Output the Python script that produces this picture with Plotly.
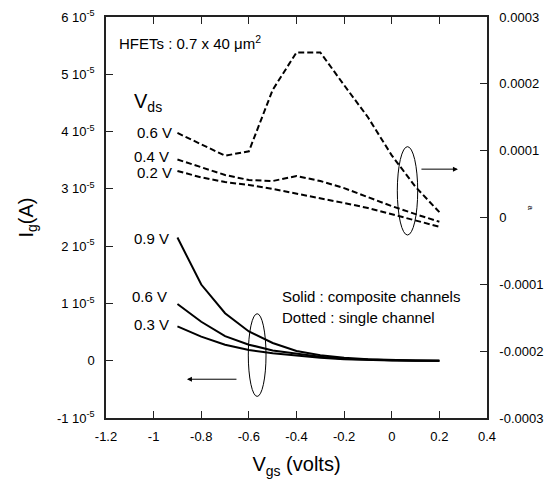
import plotly.graph_objects as go

# Gate voltage sweep (V)
vgs = [-0.9, -0.8, -0.7, -0.6, -0.5, -0.4, -0.3, -0.2, -0.1, 0.0, 0.1, 0.2]

# Single channel HFET gate current (right axis, A), dotted curves
single_06 = [1.265e-4, 1.09e-4, 0.925e-4, 0.99e-4, 1.91e-4, 2.47e-4, 2.47e-4, 1.98e-4, 1.50e-4, 0.93e-4, 0.457e-4, 0.08e-4]
single_04 = [0.868e-4, 0.756e-4, 0.636e-4, 0.561e-4, 0.546e-4, 0.621e-4, 0.546e-4, 0.44e-4, 0.307e-4, 0.17e-4, 0.05e-4, -0.063e-4]
single_02 = [0.696e-4, 0.60e-4, 0.53e-4, 0.487e-4, 0.427e-4, 0.36e-4, 0.29e-4, 0.217e-4, 0.142e-4, 0.052e-4, -0.037e-4, -0.138e-4]

# Composite channel HFET gate current (left axis, A), solid curves
comp_09 = [2.15e-5, 1.33e-5, 0.83e-5, 0.51e-5, 0.31e-5, 0.17e-5, 0.096e-5, 0.05e-5, 0.026e-5, 0.01e-5, 0.003e-5, 0.0]
comp_06 = [0.99e-5, 0.68e-5, 0.43e-5, 0.28e-5, 0.18e-5, 0.12e-5, 0.07e-5, 0.035e-5, 0.017e-5, 0.007e-5, 0.002e-5, 0.0]
comp_03 = [0.60e-5, 0.42e-5, 0.28e-5, 0.187e-5, 0.13e-5, 0.087e-5, 0.05e-5, 0.026e-5, 0.012e-5, 0.005e-5, 0.001e-5, 0.0]

x_ticks = [-1.2, -1.0, -0.8, -0.6, -0.4, -0.2, 0.0, 0.2, 0.4]
x_tick_text = ["-1.2", "-1", "-0.8", "-0.6", "-0.4", "-0.2", "0", "0.2", "0.4"]
y_ticks = [-1e-5, 0, 1e-5, 2e-5, 3e-5, 4e-5, 5e-5, 6e-5]
y_tick_text = ["-1 10<sup>-5</sup>", "0", "1 10<sup>-5</sup>", "2 10<sup>-5</sup>",
               "3 10<sup>-5</sup>", "4 10<sup>-5</sup>", "5 10<sup>-5</sup>", "6 10<sup>-5</sup>"]
y2_ticks = [-3e-4, -2e-4, -1e-4, 0, 1e-4, 2e-4, 3e-4]
y2_tick_text = ["-0.0003", "-0.0002", "-0.0001", "0", "0.0001", "0.0002", "0.0003"]

FONT = "Liberation Sans, Arial, sans-serif"
AX = "#222222"

fig = go.Figure()

for ys in (single_06, single_04, single_02):
    fig.add_trace(go.Scatter(x=vgs, y=ys, mode="lines", yaxis="y2",
                             line=dict(color="black", width=2, dash="6px,3px"),
                             showlegend=False, hoverinfo="skip"))

for ys in (comp_09, comp_06, comp_03):
    fig.add_trace(go.Scatter(x=vgs, y=ys, mode="lines", yaxis="y",
                             line=dict(color="black", width=2),
                             showlegend=False, hoverinfo="skip"))

tickfont = dict(family=FONT, size=13, color="black")

fig.update_layout(
    width=545, height=481,
    margin=dict(l=106, r=58, t=17, b=63),
    plot_bgcolor="white", paper_bgcolor="white",
    font=dict(family=FONT, color="black"),
    xaxis=dict(range=[-1.2, 0.4], tickvals=x_ticks, ticktext=x_tick_text,
               ticks="inside", ticklen=7, tickcolor=AX, showline=True,
               linecolor=AX, linewidth=1.5, mirror="ticks", showgrid=False,
               zeroline=False, tickfont=tickfont, ticklabelstandoff=6,
               automargin=False,
               title=dict(text="V<sub>gs</sub> (volts)", font=dict(family=FONT, size=20), standoff=14)),
    yaxis=dict(range=[-1e-5, 6e-5], tickvals=y_ticks, ticktext=y_tick_text,
               ticks="inside", ticklen=7, tickcolor=AX, showline=True,
               linecolor=AX, linewidth=1.5, showgrid=False, zeroline=False,
               tickfont=tickfont, ticklabelstandoff=7, automargin=False,
               title=dict(text="I<sub>g</sub>(A)", font=dict(family=FONT, size=20), standoff=18)),
    yaxis2=dict(range=[-3e-4, 3e-4], tickvals=y2_ticks, ticktext=y2_tick_text,
                overlaying="y", side="right", ticks="inside", ticklen=7,
                tickcolor=AX, showline=True, linecolor=AX, linewidth=1.5,
                showgrid=False, zeroline=False, tickfont=tickfont,
                ticklabelstandoff=8, automargin=False),
)

def label(x, y, text, size=15):
    fig.add_annotation(x=x, y=y, xref="x", yref="y", text=text, showarrow=False,
                       xanchor="left", yanchor="middle",
                       font=dict(family=FONT, size=size, color="black"))

label(-1.154, 5.55e-5, "HFETs : 0.7 x 40 \u03bcm<sup>2</sup>")
label(-1.09, 4.5e-5, "V<sub>ds</sub>", size=20)
label(-1.08, 3.98e-5, "0.6 V")
label(-1.09, 3.56e-5, "0.4 V")
label(-1.08, 3.28e-5, "0.2 V")
label(-1.09, 2.13e-5, "0.9 V")
label(-1.10, 1.12e-5, "0.6 V")
label(-1.09, 0.63e-5, "0.3 V")
label(-0.469, 1.12e-5, "Solid : composite channels")
label(-0.469, 0.75e-5, "Dotted : single channel")

# Arrows pointing to the relevant axis
fig.add_annotation(x=0.278, y=3.344e-5, xref="x", yref="y", ax=-38, ay=0,
                   showarrow=True, arrowhead=2, arrowsize=1, arrowwidth=1,
                   arrowcolor="black", text="")
fig.add_annotation(x=-0.86, y=-0.323e-5, xref="x", yref="y", ax=51, ay=0,
                   showarrow=True, arrowhead=2, arrowsize=1, arrowwidth=1,
                   arrowcolor="black", text="")

# Ellipses grouping the curve families
fig.add_shape(type="circle", xref="x", yref="y2", x0=0.0234, x1=0.109,
              y0=-0.262e-4, y1=1.06e-4, line=dict(color="black", width=1))
fig.add_shape(type="circle", xref="x", yref="y", x0=-0.6024, x1=-0.528,
              y0=-0.623e-5, y1=0.82e-5, line=dict(color="black", width=1))

# Right axis title glyph
fig.add_annotation(x=1.131, y=0.524, xref="paper", yref="paper", text="a",
                   showarrow=False, textangle=90, font=dict(family=FONT, size=8))

fig.write_html("out.html")
